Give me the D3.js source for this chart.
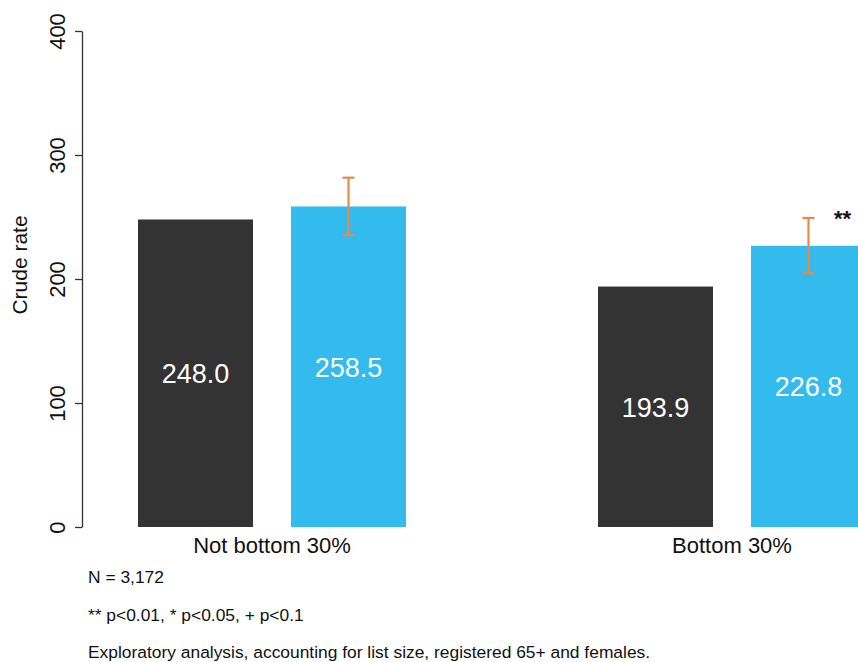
<!DOCTYPE html>
<html>
<head>
<meta charset="utf-8">
<script src="https://cdn.jsdelivr.net/npm/d3@7"></script>
<style>
  html, body { margin: 0; padding: 0; background: #fff; }
  svg { display: block; font-family: "Liberation Sans", Arial, Helvetica, sans-serif; }
</style>
</head>
<body>
<svg id="chart" width="858" height="662"></svg>
<script>
// Crude rate by practice group, with 95% intervals on the second series
const groups = ["Not bottom 30%", "Bottom 30%"];
const seriesKeys = ["baseline", "adjusted"];
const baselineValues = [248.0, 193.9];
const adjustedValues = [258.5, 226.8];
const adjustedLower = [235.5, 204.6];
const adjustedUpper = [281.7, 249.2];
const significance = ["", "**"];
const yTicks = [0, 100, 200, 300, 400];
const footnotes = [
  "N = 3,172",
  "** p<0.01, * p<0.05, + p<0.1",
  "Exploratory analysis, accounting for list size, registered 65+ and females."
];

const colors = { baseline: "#333333", adjusted: "#33BBEE" };
const errColor = "#E8894A";

const rows = groups.map((g, i) => ({
  group: g,
  bars: [
    { key: "baseline", value: baselineValues[i] },
    { key: "adjusted", value: adjustedValues[i], lo: adjustedLower[i], hi: adjustedUpper[i], sig: significance[i] }
  ]
}));

const svg = d3.select("#chart");

const y = d3.scaleLinear().domain([0, 400]).range([527, 31]);
const x0 = d3.scaleBand().domain(groups).range([138, 866]).paddingInner(192 / 460).paddingOuter(0);
const x1 = d3.scaleBand().domain(seriesKeys).range([0, x0.bandwidth()]).paddingInner(38 / 153).paddingOuter(0);

// y axis
const axisX = 82;
const yAxis = svg.append("g")
  .attr("transform", `translate(${axisX},0)`)
  .call(d3.axisLeft(y).tickValues(yTicks).tickSizeInner(7).tickSizeOuter(0).tickPadding(0));
yAxis.select(".domain").attr("stroke", "#333").attr("stroke-width", 1.3);
yAxis.selectAll(".tick line").attr("stroke", "#333").attr("stroke-width", 1.3);
yAxis.selectAll(".tick text")
  .attr("transform", "rotate(-90)")
  .attr("x", 0)
  .attr("y", -17)
  .attr("dy", 0)
  .attr("text-anchor", "middle")
  .attr("font-size", 22)
  .attr("font-family", "\"Liberation Sans\", Arial, sans-serif")
  .attr("fill", "#111");

svg.append("text")
  .attr("transform", "translate(27,265) rotate(-90)")
  .attr("text-anchor", "middle")
  .attr("font-size", 21)
  .attr("fill", "#111")
  .text("Crude rate");

// bars
const g = svg.selectAll("g.group").data(rows).join("g")
  .attr("class", "group")
  .attr("transform", d => `translate(${x0(d.group)},0)`);

g.selectAll("rect").data(d => d.bars).join("rect")
  .attr("x", d => x1(d.key))
  .attr("width", x1.bandwidth())
  .attr("y", d => y(d.value))
  .attr("height", d => y(0) - y(d.value))
  .attr("fill", d => colors[d.key]);

// value labels in the middle of each bar
g.selectAll("text.val").data(d => d.bars).join("text")
  .attr("class", "val")
  .attr("x", d => x1(d.key) + x1.bandwidth() / 2)
  .attr("y", d => y(d.value / 2) + 10)
  .attr("text-anchor", "middle")
  .attr("font-size", 27)
  .attr("fill", "#fff")
  .text(d => d.value.toFixed(1));

// error bars
const eb = g.selectAll("g.err").data(d => d.bars.filter(b => b.lo != null)).join("g")
  .attr("class", "err")
  .attr("stroke", errColor)
  .attr("stroke-width", 2.2);
eb.append("line")
  .attr("x1", d => x1(d.key) + x1.bandwidth() / 2)
  .attr("x2", d => x1(d.key) + x1.bandwidth() / 2)
  .attr("y1", d => y(d.lo)).attr("y2", d => y(d.hi));
eb.append("line")
  .attr("x1", d => x1(d.key) + x1.bandwidth() / 2 - 6)
  .attr("x2", d => x1(d.key) + x1.bandwidth() / 2 + 6)
  .attr("y1", d => y(d.hi)).attr("y2", d => y(d.hi));
eb.append("line")
  .attr("x1", d => x1(d.key) + x1.bandwidth() / 2 - 6)
  .attr("x2", d => x1(d.key) + x1.bandwidth() / 2 + 6)
  .attr("y1", d => y(d.lo)).attr("y2", d => y(d.lo));

// significance markers
g.selectAll("text.sig").data(d => d.bars.filter(b => b.sig)).join("text")
  .attr("class", "sig")
  .attr("x", d => x1(d.key) + x1.bandwidth() / 2 + 34)
  .attr("y", d => y(d.hi) + 8)
  .attr("text-anchor", "middle")
  .attr("font-size", 22)
  .attr("font-weight", "bold")
  .attr("fill", "#111")
  .text(d => d.sig);

// group labels
svg.selectAll("text.cat").data(groups).join("text")
  .attr("class", "cat")
  .attr("x", d => x0(d) + x0.bandwidth() / 2)
  .attr("y", 553)
  .attr("text-anchor", "middle")
  .attr("font-size", 22)
  .attr("fill", "#111")
  .text(d => d);

// footnotes
svg.selectAll("text.note").data(footnotes).join("text")
  .attr("class", "note")
  .attr("x", 88)
  .attr("y", (d, i) => [583, 621, 658][i])
  .attr("font-size", 17.4)
  .attr("fill", "#111")
  .text(d => d);
</script>
</body>
</html>
